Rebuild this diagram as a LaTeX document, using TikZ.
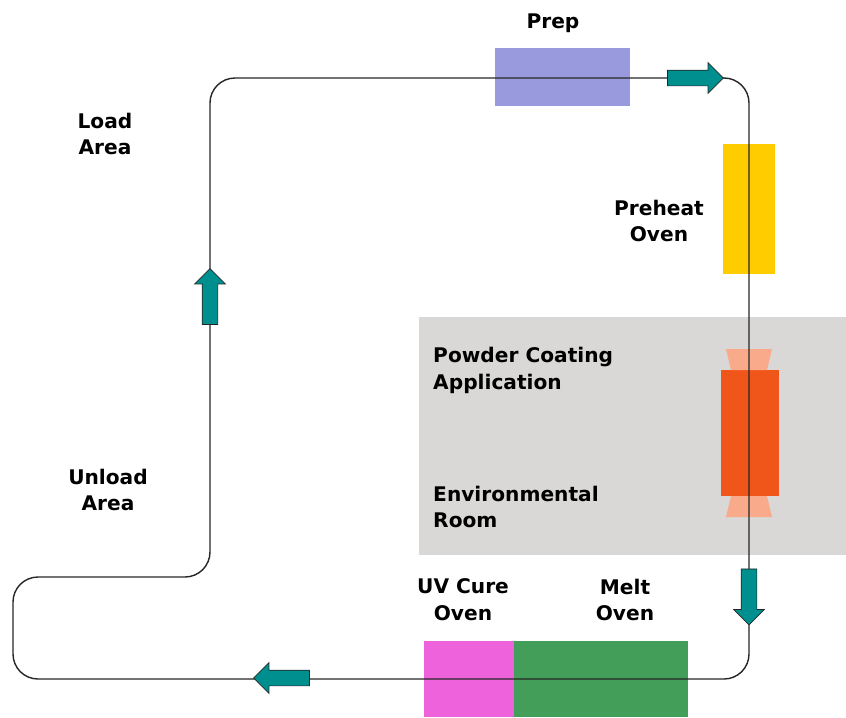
\documentclass[tikz,border=0pt]{standalone}
\usepackage{fontspec}
\setmainfont{DejaVu Sans}
\usetikzlibrary{positioning,shapes.arrows}
\definecolor{prepc}{RGB}{153,153,221}
\definecolor{heatc}{RGB}{255,204,0}
\definecolor{roomc}{RGB}{217,216,214}
\definecolor{gunc}{RGB}{240,86,26}
\definecolor{sprayc}{RGB}{249,170,138}
\definecolor{uvc}{RGB}{238,98,220}
\definecolor{meltc}{RGB}{66,158,88}
\definecolor{movec}{RGB}{0,143,143}

\begin{document}
\begin{tikzpicture}[x=0.03cm,y=-0.03cm,
  box/.style={inner sep=0pt,outer sep=0pt},
  lbl/.style={font=\fontsize{17.2}{23}\selectfont\bfseries,align=center,inner sep=0pt},
  lbll/.style={lbl,align=left},
  move/.style={single arrow,draw=black!85,line width=0.6pt,fill=movec,inner xsep=0pt,inner ysep=0.225cm,
    minimum height=1.68cm,minimum width=0.9cm,single arrow head extend=0.225cm,
    single arrow head indent=0pt},
  track/.style={draw=black!85,line width=1.2pt,rounded corners=0.75cm}]
  \useasboundingbox (0,0) rectangle (846,717);

  \fill[roomc] (419,317) rectangle (846,555);
  \node[box,fill=prepc,minimum width=4.05cm,minimum height=1.74cm] (prep) at (562.5,77) {};
  \node[box,fill=heatc,minimum width=1.56cm,minimum height=3.9cm] (heat) at (749,209) {};
  \node[box,fill=gunc,minimum width=1.74cm,minimum height=3.78cm] (gun) at (750,433) {};
  \fill[sprayc] (726,349) -- (772,349) -- (767,370) -- (731,370) -- cycle;
  \fill[sprayc] (731,496) -- (767,496) -- (772,517) -- (726,517) -- cycle;
  \node[box,fill=uvc,minimum width=2.7cm,minimum height=2.28cm] (uv) at (469,679) {};
  \node[box,fill=meltc,minimum width=5.22cm,minimum height=2.28cm] (melt) at (601,679) {};

  \draw[track] (400,78) -- (749,78) -- (749,679) -- (13,679) -- (13,577)
    -- (210,577) -- (210,78) -- cycle;

  \node[move] (a1) at (691.5,78) {};
  \node[move,rotate=-90] (a2) at (749,593) {};
  \node[move,rotate=180] (a3) at (285.5,678) {};
  \node[move,rotate=90] (a4) at (210,300.5) {};

  \node[lbl] (lprep) at (553,23) {Prep};
  \node[lbl] (lload) at (105,134) {Load\\Area};
  \node[lbl] (lheat) at (659,221) {Preheat\\Oven};
  \node[lbll,anchor=west] (lgun) at (433,370) {Powder Coating\\Application};
  \node[lbll,anchor=west] (lroom) at (433,507) {Environmental\\Room};
  \node[lbl] (lunload) at (108,490) {Unload\\Area};
  \node[lbl] (luv) at (463,600) {UV Cure\\Oven};
  \node[lbl] (lmelt) at (625,600) {Melt\\Oven};
\end{tikzpicture}
\end{document}
